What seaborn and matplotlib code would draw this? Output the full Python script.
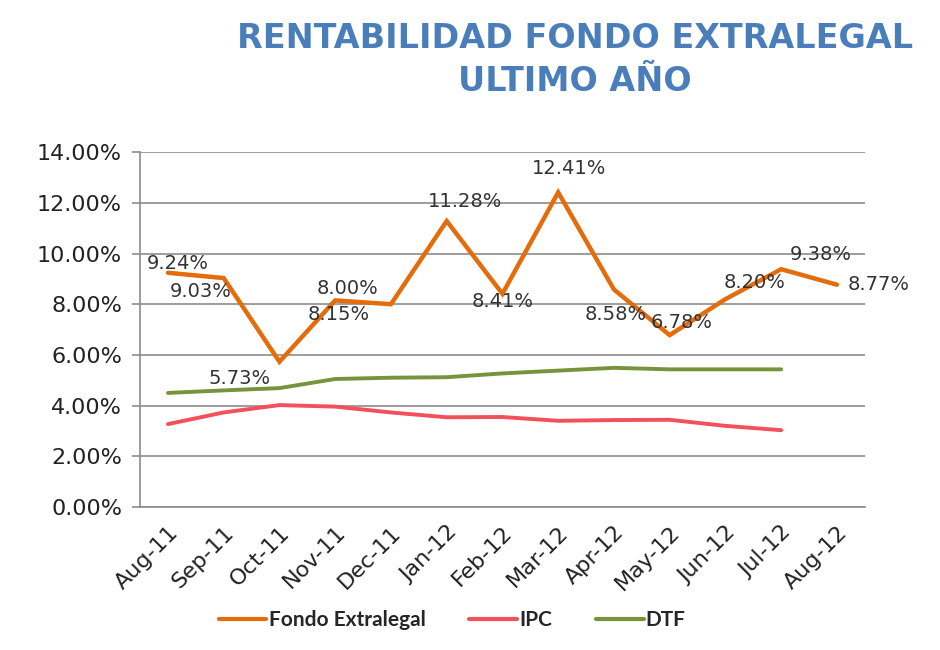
import pandas as pd
import numpy as np
import seaborn as sns
from matplotlib import pyplot as plt

months = ["Aug-11", "Sep-11", "Oct-11", "Nov-11", "Dec-11", "Jan-12", "Feb-12",
          "Mar-12", "Apr-12", "May-12", "Jun-12", "Jul-12", "Aug-12"]
fondo = [9.24, 9.03, 5.73, 8.15, 8.00, 11.28, 8.41, 12.41, 8.58, 6.78, 8.20, 9.38, 8.77]
ipc = [3.27, 3.73, 4.02, 3.96, 3.73, 3.54, 3.55, 3.40, 3.43, 3.44, 3.20, 3.03]
dtf = [4.50, 4.60, 4.69, 5.05, 5.10, 5.12, 5.27, 5.38, 5.49, 5.43, 5.43, 5.43]

series_names = ["Fondo Extralegal", "IPC", "DTF"]
colors = {"Fondo Extralegal": "#E46C0A", "IPC": "#F2505A", "DTF": "#77933C"}

# label offsets in pixels (dx, dy up), mimicking the Excel placement
label_offsets = [(10, 9), (-23, -13), (-40, -17), (4, -14), (-43, 16), (18, 20),
                 (0, -8), (11, 24), (2, -25), (12, 13), (29, 17), (40, 15), (42, 0)]

rows = []
for name, vals in zip(series_names, [fondo, ipc, dtf]):
    for m, v in zip(months, vals):
        rows.append({"mes": m, "valor": v, "serie": name})
df = pd.DataFrame(rows)

sns.set_style("white")
plt.rcParams["font.family"] = ["DejaVu Sans"]

grid_col = "#8C8C8C"

fig = plt.figure(figsize=(9.4, 6.5), dpi=100)
ax = fig.add_axes([0.149, 0.22, 0.771, 0.546])

sns.lineplot(data=df, x="mes", y="valor", hue="serie", hue_order=series_names,
             palette=colors, sort=False, ax=ax, legend=False)
for line, lw in zip(ax.get_lines(), [3.2, 2.8, 2.8]):
    line.set_linewidth(lw)
    line.set_solid_joinstyle("miter")

for i, (v, off) in enumerate(zip(fondo, label_offsets)):
    ax.annotate(f"{v:.2f}%", (i, v), xytext=off, textcoords="offset pixels",
                ha="center", va="center", fontsize=14, color="#333333")

ax.set_xlim(-0.5, len(months) - 0.5)
ax.set_ylim(0, 14)
yt = np.arange(0, 15, 2)
ax.set_yticks(yt)
ax.set_yticklabels([f"{t:.2f}%" for t in yt], fontsize=16, color="#222222")
ax.set_xticks(range(len(months)))
ax.set_xticks(np.arange(-0.5, len(months), 1), minor=True)
ax.set_xticklabels(months, rotation=45, ha="right", rotation_mode="anchor",
                   fontsize=16, color="#222222")
ax.tick_params(axis="x", which="major", pad=11, length=0)
ax.tick_params(axis="x", which="minor", length=5, width=1.2, color=grid_col,
               direction="out")
ax.tick_params(axis="y", which="major", pad=7, length=6, width=1.2, color=grid_col,
               direction="out", left=True)
ax.yaxis.grid(True, color=grid_col, linewidth=1.2)
ax.set_axisbelow(True)
ax.set_xlabel("")
ax.set_ylabel("")
for s in ["top", "right"]:
    ax.spines[s].set_visible(False)
for s in ["left", "bottom"]:
    ax.spines[s].set_color(grid_col)
    ax.spines[s].set_linewidth(1.2)

fig.text(0.612, 0.94, "RENTABILIDAD FONDO EXTRALEGAL", ha="center", va="center",
         fontsize=24, fontweight="bold", color="#4A7EBB")
fig.text(0.612, 0.875, "ULTIMO AÑO", ha="center", va="center",
         fontsize=24, fontweight="bold", color="#4A7EBB")

handles = [plt.Line2D([], [], color=colors[n], linewidth=3) for n in series_names]
fig.legend(handles, series_names, loc="center", bbox_to_anchor=(0.481, 0.046),
           ncol=3, frameon=False, handlelength=2.3, handletextpad=0.1,
           columnspacing=2.1, prop={"family": "Lato", "weight": "bold", "size": 15})

fig.savefig("out.png", dpi=100)
